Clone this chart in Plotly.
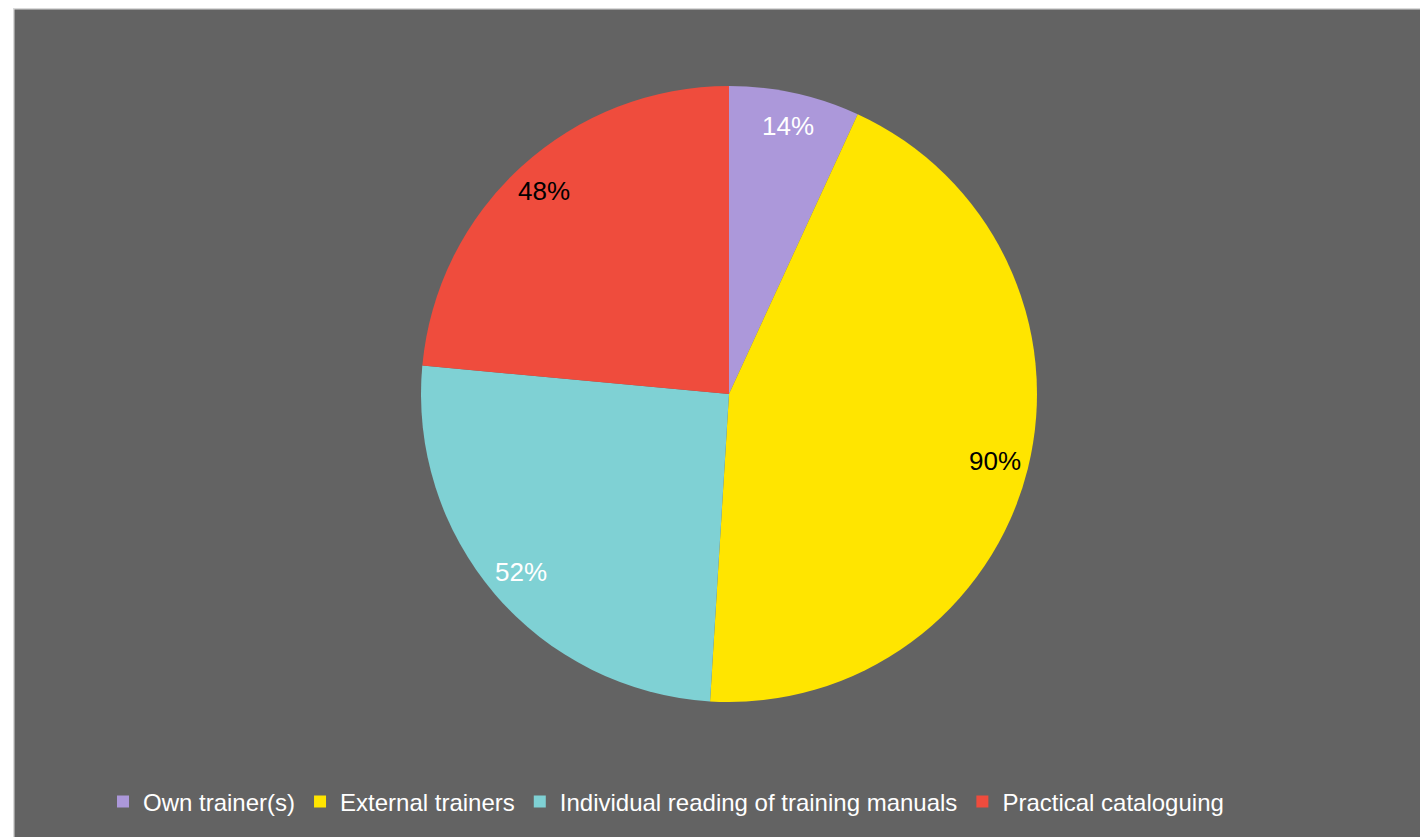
import math
import plotly.graph_objects as go

categories = ["Own trainer(s)", "External trainers", "Individual reading of training manuals", "Practical cataloguing"]
values = [14, 90, 52, 48]
labels_text = ["14%", "90%", "52%", "48%"]
colors = ["#ac98da", "#ffe500", "#7fd1d4", "#ef4c3d"]
text_colors = ["#ffffff", "#000000", "#ffffff", "#000000"]

# the page body has an 8px margin, so the figure occupies 1420x829
OFF = 8
W, H = 1428 - OFF, 837 - OFF
cx, cy, R = 729 - OFF, 394 - OFF, 308  # pixel geometry of the pie
dom_x = [(cx - R) / W, (cx + R) / W]
dom_y = [1 - (cy + R) / H, 1 - (cy - R) / H]

FONT = "Liberation Sans, Arial, sans-serif"

fig = go.Figure(go.Pie(
    labels=categories,
    values=values,
    sort=False,
    direction="clockwise",
    rotation=0,
    marker=dict(colors=colors, line=dict(width=0)),
    textinfo="none",
    hoverinfo="label+value",
    domain=dict(x=dom_x, y=dom_y),
    automargin=False,
))

# data labels placed near the outer edge, as in the original chart
total = sum(values)
cum = 0
annotations = []
for v, t, c in zip(values, labels_text, text_colors):
    mid = (cum + v / 2) / total * 2 * math.pi
    cum += v
    r = 0.89 * R
    px = cx + r * math.sin(mid)
    py = cy - r * math.cos(mid)
    annotations.append(dict(
        x=px / W, y=1 - py / H, xref="paper", yref="paper",
        text=t, showarrow=False, xanchor="center", yanchor="middle",
        font=dict(family=FONT, size=26, color=c),
    ))

shapes = [
    dict(type="rect", xref="paper", yref="paper", x0=0, x1=5 / W, y0=0, y1=1,
         fillcolor="#ffffff", line=dict(width=0), layer="above"),
    dict(type="line", xref="paper", yref="paper", x0=5.5 / W, x1=1, y0=1 - 0.75 / H, y1=1 - 0.75 / H,
         line=dict(color="#d9d9d9", width=1.5), layer="above"),
    dict(type="line", xref="paper", yref="paper", x0=5.75 / W, x1=5.75 / W, y0=0, y1=1,
         line=dict(color="#d9d9d9", width=1.5), layer="above"),
]

fig.update_layout(
    width=W, height=H,
    margin=dict(l=0, r=0, t=0, b=0),
    paper_bgcolor="#636363",
    plot_bgcolor="#636363",
    font=dict(family=FONT, color="#ffffff"),
    showlegend=True,
    legend=dict(
        orientation="h", x=(117 - OFF - 14) / W, xanchor="left",
        y=1 - (802 - OFF) / H, yanchor="middle",
        font=dict(family=FONT, size=24, color="#ffffff"), bgcolor="rgba(0,0,0,0)",
        traceorder="normal",
    ),
    annotations=annotations,
    shapes=shapes,
)

fig.write_html("out.html")
